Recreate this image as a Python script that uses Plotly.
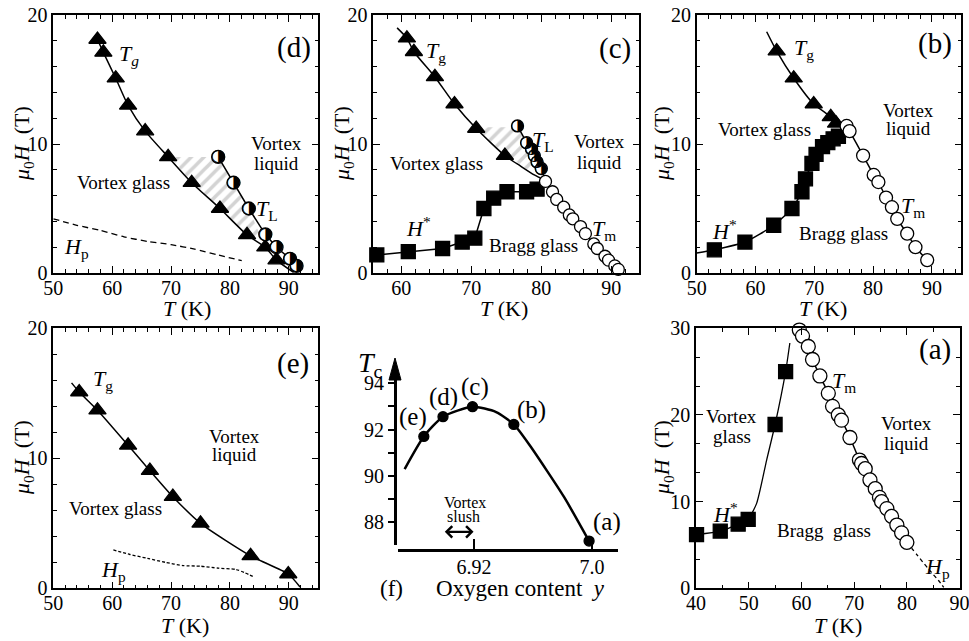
import plotly.graph_objects as go

W, H = 969, 641
SERIF = "Liberation Serif"

# ---------------- panel (d) ----------------
d_tg_T = [57.5, 58.5, 60.6, 62.7, 65.6, 69.5, 73.5, 78.3, 82.9, 86.0, 87.9]
d_tg_H = [18.1, 17.1, 15.1, 13.0, 11.0, 9.0, 7.0, 5.0, 2.95, 2.0, 1.0]
d_tgline_T = [57.5, 58.5, 60.6, 62.7, 65.6, 69.5, 73.5, 78.3, 82.9, 86.0, 87.9, 90.8]
d_tgline_H = [18.1, 17.1, 15.1, 13.0, 11.0, 9.0, 7.0, 5.0, 2.95, 2.0, 1.0, 0.05]
d_tl_T = [78.0, 80.6, 83.2, 86.0, 87.9, 90.2, 91.3]
d_tl_H = [9.0, 7.0, 5.0, 3.0, 2.0, 1.1, 0.55]
d_hp_T = [50, 54, 58, 62, 66, 70, 74, 78, 82]
d_hp_H = [4.2, 3.7, 3.3, 2.8, 2.45, 2.2, 1.85, 1.4, 0.95]
d_hatch_T = [69.9, 78.0, 80.6, 83.2, 85.4, 84.4, 82.9, 78.3, 73.5, 69.9]
d_hatch_H = [9.0, 9.0, 7.0, 5.0, 2.6, 2.6, 2.95, 5.0, 7.0, 9.0]

# ---------------- panel (c) ----------------
c_tg_T = [60.8, 61.8, 64.8, 67.6, 70.7, 74.8]
c_tg_H = [18.2, 17.15, 15.2, 13.1, 11.2, 9.1]
c_tgline_T = [59.4, 60.8, 61.8, 64.8, 67.6, 70.7, 74.8, 77.0, 79.0, 80.5]
c_tgline_H = [19.0, 18.2, 17.15, 15.2, 13.1, 11.2, 9.1, 8.3, 7.6, 7.2]
c_tl_T = [76.6, 77.9, 78.6, 79.0, 79.4, 80.0]
c_tl_H = [11.4, 10.1, 9.6, 9.1, 8.6, 8.1]
c_tm_T = [80.6, 81.6, 82.2, 83.2, 84.0, 84.5, 85.6, 86.3, 87.5, 88.0, 89.1, 89.6, 90.5, 91.0]
c_tm_H = [7.1, 6.3, 5.7, 5.1, 4.5, 4.2, 3.6, 3.05, 2.25, 1.9, 1.3, 1.0, 0.55, 0.28]
c_hs_T = [56.5, 61.0, 65.9, 68.7, 70.5, 71.8, 73.2, 75.1, 77.9, 79.4]
c_hs_H = [1.4, 1.65, 1.9, 2.4, 2.7, 5.0, 5.8, 6.3, 6.3, 6.5]
c_hatch_T = [70.6, 76.6, 77.9, 78.6, 79.0, 79.4, 79.6, 78.0, 76.5, 74.8, 72.5, 70.7]
c_hatch_H = [11.3, 11.3, 10.1, 9.6, 9.1, 8.6, 8.0, 8.0, 8.6, 9.2, 10.3, 11.2]

# ---------------- panel (b) ----------------
b_tg_T = [63.6, 66.5, 69.9, 72.8, 73.7]
b_tg_H = [17.2, 15.1, 13.1, 12.1, 11.6]
b_tgline_T = [61.9, 63.6, 66.5, 69.9, 72.8, 73.7, 75.5]
b_tgline_H = [18.7, 17.2, 15.1, 13.1, 12.1, 11.6, 11.1]
b_hs_T = [53.0, 58.2, 63.1, 66.2, 67.9, 68.5, 69.6, 70.3, 71.4, 72.3, 73.2, 74.1]
b_hs_H = [1.8, 2.4, 3.7, 5.0, 6.3, 7.3, 8.5, 9.2, 9.8, 10.1, 10.4, 10.6]
b_hsline_T = [50.0, 53.0, 58.2, 63.1, 66.2, 67.9, 68.5, 69.6, 70.3, 71.4, 72.3, 73.2, 74.1, 75.3]
b_hsline_H = [1.55, 1.8, 2.4, 3.7, 5.0, 6.3, 7.3, 8.5, 9.2, 9.8, 10.1, 10.4, 10.6, 11.0]
b_tm_T = [75.5, 76.0, 78.3, 80.1, 80.9, 82.2, 83.2, 84.1, 85.8, 87.2, 89.2]
b_tm_H = [11.4, 11.0, 9.1, 7.6, 7.05, 5.85, 5.1, 4.2, 3.05, 2.0, 1.0]

# ---------------- panel (e) ----------------
e_tg_T = [54.4, 57.5, 62.7, 66.4, 70.3, 75.0, 83.5, 89.9]
e_tg_H = [15.1, 13.7, 11.0, 9.05, 7.05, 5.0, 2.5, 1.1]
e_tgline_T = [53.1, 54.4, 57.5, 62.7, 66.4, 70.3, 75.0, 83.5, 89.9, 91.9]
e_tgline_H = [15.8, 15.1, 13.7, 11.0, 9.05, 7.05, 5.0, 2.5, 1.1, 0.1]
e_hp_T = [60.2, 63, 66, 69, 72, 75, 78, 81, 82.5, 84.2]
e_hp_H = [2.95, 2.6, 2.3, 2.0, 1.75, 1.7, 1.55, 1.45, 1.2, 0.85]

# ---------------- panel (a) ----------------
a_hs_T = [40.1, 44.6, 48.0, 49.9, 55.0, 57.0]
a_hs_H = [6.2, 6.6, 7.4, 7.96, 18.9, 25.0]
a_hsline_T = [40.1, 44.6, 48.0, 49.9, 51.5, 53.4, 55.0, 57.0, 57.8]
a_hsline_H = [6.2, 6.6, 7.4, 8.0, 9.8, 14.8, 18.9, 25.0, 28.3]
a_tm_T = [59.6, 60.2, 61.3, 62.1, 63.5, 65.1, 65.9, 67.0, 67.6, 69.2, 71.0,
          71.4, 72.1, 73.0, 74.0, 74.8, 75.2, 76.2, 77.1, 78.1, 79.0, 80.0]
a_tm_H = [29.8, 29.1, 27.9, 26.4, 24.5, 22.5, 21.0, 20.0, 19.4, 17.4, 14.8,
          14.4, 13.8, 12.5, 11.5, 10.5, 10.0, 9.2, 8.3, 7.3, 6.4, 5.3]
a_hp_T = [80.0, 82.0, 84.0, 86.0, 87.0]
a_hp_H = [5.3, 3.8, 2.3, 0.9, 0.1]

# ---------------- panel (f) ----------------
f_y = [6.886, 6.899, 6.919, 6.947, 6.998]
f_tc = [91.7, 92.55, 92.98, 92.22, 87.2]
f_names = ["(e)", "(d)", "(c)", "(b)", "(a)"]
f_curve_y = [6.873, 6.886, 6.899, 6.919, 6.935, 6.947, 6.958, 6.981, 6.998]
f_curve_tc = [90.3, 91.7, 92.55, 92.98, 92.75, 92.22, 91.3, 89.1, 87.2]
f_ticks = [6.92, 7.0]
f_ticktext = ["6.92", "7.0"]
f_ytick = [88, 90, 92, 94]

fig = go.Figure()


def xr(n):
    return "x" if n == 1 else f"x{n}"


def yr(n):
    return "y" if n == 1 else f"y{n}"


def add_line(n, xs, ys, dash="solid", width=1.5, shape="spline"):
    fig.add_trace(go.Scatter(x=xs, y=ys, mode="lines",
                             line=dict(color="black", width=width, dash=dash, shape=shape, smoothing=0.6),
                             xaxis=xr(n), yaxis=yr(n), showlegend=False, hoverinfo="skip"))


def add_markers(n, xs, ys, symbol, size, fill="black"):
    fig.add_trace(go.Scatter(x=xs, y=ys, mode="markers", cliponaxis=False,
                             marker=dict(symbol=symbol, size=size, color=fill,
                                         line=dict(color="black", width=1.3)),
                             xaxis=xr(n), yaxis=yr(n), showlegend=False, hoverinfo="skip"))


def add_half(n, xs, ys, size):
    add_markers(n, xs, ys, "circle", size, fill="white")
    fig.add_trace(go.Scatter(x=xs, y=ys, mode="text", text=["\u25D1"] * len(xs), cliponaxis=False,
                             textposition="middle center",
                             textfont=dict(family="DejaVu Sans", size=size + 4, color="black"),
                             xaxis=xr(n), yaxis=yr(n), showlegend=False, hoverinfo="skip"))


def add_hatch(n, xs, ys):
    fig.add_trace(go.Scatter(x=xs, y=ys, mode="lines", line=dict(width=0), fill="toself",
                             fillcolor="rgba(0,0,0,0)",
                             fillpattern=dict(shape="/", fgcolor="#a8a8a8", bgcolor="rgba(255,255,255,0)",
                                              size=9, solidity=0.4),
                             xaxis=xr(n), yaxis=yr(n), showlegend=False, hoverinfo="skip"))


# (d) -> axis 1
add_hatch(1, d_hatch_T, d_hatch_H)
add_line(1, d_tgline_T, d_tgline_H)
add_line(1, d_tl_T, d_tl_H, shape="linear")
add_line(1, d_hp_T, d_hp_H, dash="6px,4px", width=1.3)
add_markers(1, d_tg_T, d_tg_H, "triangle-up", 15)
add_half(1, d_tl_T, d_tl_H, 13)

# (c) -> axis 2
add_hatch(2, c_hatch_T, c_hatch_H)
add_line(2, c_tgline_T, c_tgline_H)
add_line(2, c_tl_T + [80.5], c_tl_H + [7.3], shape="linear")
add_line(2, c_tm_T, c_tm_H)
add_line(2, c_hs_T + [80.4], c_hs_H + [7.0], shape="linear")
add_markers(2, c_tg_T, c_tg_H, "triangle-up", 15)
add_markers(2, c_hs_T, c_hs_H, "square", 14)
add_markers(2, c_tm_T, c_tm_H, "circle", 12, fill="white")
add_half(2, c_tl_T, c_tl_H, 12)

# (b) -> axis 3
add_line(3, b_tgline_T, b_tgline_H)
add_line(3, b_hsline_T, b_hsline_H)
add_line(3, b_tm_T, b_tm_H)
add_markers(3, b_tg_T, b_tg_H, "triangle-up", 15)
add_markers(3, b_hs_T, b_hs_H, "square", 14)
add_markers(3, b_tm_T, b_tm_H, "circle", 13, fill="white")

# (e) -> axis 4
add_line(4, e_tgline_T, e_tgline_H)
add_line(4, e_hp_T, e_hp_H, dash="3px,2px", width=1.3)
add_markers(4, e_tg_T, e_tg_H, "triangle-up", 15)

# (a) -> axis 6
add_line(6, a_hsline_T, a_hsline_H, width=1.3)
add_line(6, a_tm_T, a_tm_H)
add_line(6, a_hp_T, a_hp_H, dash="4px,3px", width=1.3)
add_markers(6, a_hs_T, a_hs_H, "square", 14)
add_markers(6, a_tm_T, a_tm_H, "circle", 14, fill="white")

# (f) -> axis 5
add_line(5, f_curve_y, f_curve_tc, width=2.5)
add_markers(5, f_y, f_tc, "circle", 10)


def dom_x(a, b):
    return [a / W, b / W]


def dom_y(top, bottom):
    return [1 - bottom / H, 1 - top / H]


TICKFONT = dict(family=SERIF, size=20, color="black")


def ax(dom, rng, dtick, minor_dtick, anchor, standoff=0):
    return dict(domain=dom, range=rng, anchor=anchor, showline=True, linecolor="black", linewidth=1.5,
                mirror="ticks", ticks="inside", ticklen=7, tickwidth=1.3, tickcolor="black",
                showgrid=False, zeroline=False, tick0=0, dtick=dtick, automargin=False,
                tickfont=TICKFONT, ticklabelstandoff=standoff, ticklabeloverflow="allow",
                minor=dict(ticks="inside", ticklen=4, tickwidth=1.2, tickcolor="black",
                           dtick=minor_dtick, tick0=0, showgrid=False))


top_y = dom_y(15, 273)
bot_y = dom_y(328.3, 588.3)

layout = dict(
    width=W, height=H, margin=dict(l=0, r=0, t=0, b=0, autoexpand=False),
    paper_bgcolor="white", plot_bgcolor="white", showlegend=False,
    font=dict(family=SERIF, color="black", size=20),
    xaxis=ax(dom_x(53.3, 318.3), [50, 95], 10, 2, "y", -4),
    yaxis=ax(top_y, [0, 20], 10, 2, "x"),
    xaxis2=ax(dom_x(373.3, 639.3), [56, 94], 10, 2, "y2", -4),
    yaxis2=ax(top_y, [0, 20], 10, 2, "x2"),
    xaxis3=ax(dom_x(696.7, 961.3), [50, 95], 10, 2, "y3", -4),
    yaxis3=ax(top_y, [0, 20], 10, 2, "x3"),
    xaxis4=ax(dom_x(53.3, 318.3), [50, 95], 10, 2, "y4", -4),
    yaxis4=ax(bot_y, [0, 20], 10, 2, "x4"),
    xaxis6=ax(dom_x(696, 959.7), [40, 90.02], 10, 5, "y6", -4),
    yaxis6=ax(bot_y, [0, 30], 10, 10 / 3, "x6"),
    xaxis5=dict(domain=dom_x(398, 618), range=[6.8685, 7.0176], anchor="free", position=1 - 550 / H,
                showline=True, linecolor="black", linewidth=3, ticks="inside", ticklen=10, tickwidth=2,
                tickcolor="black", tickvals=f_ticks, ticktext=f_ticktext, showgrid=False, zeroline=False,
                automargin=False, tickfont=TICKFONT, ticklabelstandoff=-2),
    yaxis5=dict(domain=dom_y(378, 545), range=[87.032, 94.215], anchor="free", position=395 / W,
                showline=True, linecolor="black", linewidth=3, ticks="outside", ticklen=6, tickwidth=2,
                tickcolor="black", tickvals=f_ytick, showgrid=False, zeroline=False,
                automargin=False, tickfont=TICKFONT,
                minor=dict(tickvals=[89, 91, 93], ticks="outside", ticklen=6, tickwidth=2, tickcolor="black")),
)
fig.update_layout(**layout)

anns = []


def A(n, text, x, y, size=19, **kw):
    d = dict(text=text, x=x, y=y, xref=xr(n), yref=yr(n), showarrow=False,
             xanchor="center", yanchor="middle",
             font=dict(family=SERIF, size=size, color="black"))
    d.update(kw)
    anns.append(d)


def P(text, px, py, size=20, **kw):
    d = dict(text=text, x=px / W, y=1 - py / H, xref="paper", yref="paper", showarrow=False,
             xanchor="center", yanchor="middle",
             font=dict(family=SERIF, size=size, color="black"))
    d.update(kw)
    anns.append(d)


TG = "<i>T</i><sub>g</sub>"
TL = "<i>T</i><sub>L</sub>"
TM = "<i>T</i><sub>m</sub>"
HS = "<i>H</i><sup>*</sup>"
HP = "<i>H</i><sub>p</sub>"

# (d)
A(1, "(d)", 90.8, 17.5, 29)
A(1, "<i>T</i><sub><i>g</i></sub>", 62.8, 16.9, 22)
A(1, "Vortex glass", 61.9, 7.0)
A(1, "Vortex", 87.9, 10.05)
A(1, "liquid", 87.9, 8.5)
A(1, TL, 86.3, 4.9, 22)
A(1, HP, 53.9, 1.9, 22)
# (c)
A(2, "(c)", 90.5, 17.4, 29)
A(2, TG, 65.0, 17.1, 22)
A(2, TL, 80.3, 10.2, 22)
A(2, "Vortex", 88.3, 10.2)
A(2, "liquid", 88.3, 8.6)
A(2, "Vortex glass", 65.0, 8.5)
A(2, HS, 62.4, 3.6, 22)
A(2, "Bragg glass", 78.9, 2.15)
A(2, TM, 88.9, 3.3, 22)
# (b)
A(3, "(b)", 90.6, 17.8, 29)
A(3, TG, 68.2, 17.4, 22)
A(3, "Vortex glass", 61.6, 11.1)
A(3, "Vortex", 86.0, 12.6)
A(3, "liquid", 86.0, 11.2)
A(3, TM, 86.8, 5.1, 22)
A(3, HS, 54.8, 3.3, 22)
A(3, "Bragg glass", 75.0, 3.05)
# (e)
A(4, "(e)", 90.7, 17.3, 29)
A(4, TG, 58.5, 16.0, 22)
A(4, "Vortex", 80.8, 11.7)
A(4, "liquid", 80.8, 10.3)
A(4, "Vortex glass", 60.5, 6.15)
A(4, HP, 60.2, 1.3, 22)
# (a)
A(6, "(a)", 85.4, 27.5, 29)
A(6, TM, 68.0, 23.8, 22)
A(6, "Vortex", 46.8, 19.8)
A(6, "glass", 46.8, 17.5)
A(6, "Vortex", 80.0, 19.0)
A(6, "liquid", 80.0, 16.7)
A(6, HS, 45.5, 8.65, 22)
A(6, "Bragg  glass", 64.2, 6.7)
A(6, HP, 85.8, 2.3, 22)
# (f)
for nm, xx, yy in zip(f_names, [6.8789, 6.8992, 6.9207, 6.9591, 7.0100], [92.55, 93.41, 93.84, 92.84, 88.03]):
    A(5, nm, xx, yy, 25)
A(5, "Vortex", 6.9139, 88.85, 16)
A(5, "slush", 6.9128, 88.25, 16)
anns.append(dict(x=6.9197, y=87.6, ax=6.8992, ay=87.6, xref="x5", yref="y5", axref="x5", ayref="y5",
                 showarrow=True, arrowhead=4, arrowside="end+start", arrowsize=1, arrowwidth=2.2,
                 arrowcolor="black", text=""))
P("<i>T</i><sub>c</sub>", 370, 364, 28)
P("(f)", 391.7, 588, 23)
P("Oxygen content  <i>y</i>", 520, 588, 23)

# axis titles
YT = "<i>\u03bc</i><sub>0</sub><i>H</i>  (T)"
XT = "<i>T</i> (K)"
for px, py in [(23, 144), (343, 144), (663, 144), (23, 458), (663, 458)]:
    P(YT, px, py, 22, textangle=-90)
for px, py in [(187, 308), (504, 308), (823, 308), (185, 625), (838, 625)]:
    P(XT, px, py, 22)

fig.update_layout(annotations=anns)

# arrow head on the Tc axis
fig.add_shape(type="path", xref="paper", yref="paper",
              path=f"M {395 / W} {1 - 358 / H} L {389 / W} {1 - 380 / H} L {401 / W} {1 - 380 / H} Z",
              fillcolor="black", line=dict(color="black", width=1))

fig.write_html("out.html", config={"displayModeBar": False},
               post_script="document.body.style.margin='0';")
